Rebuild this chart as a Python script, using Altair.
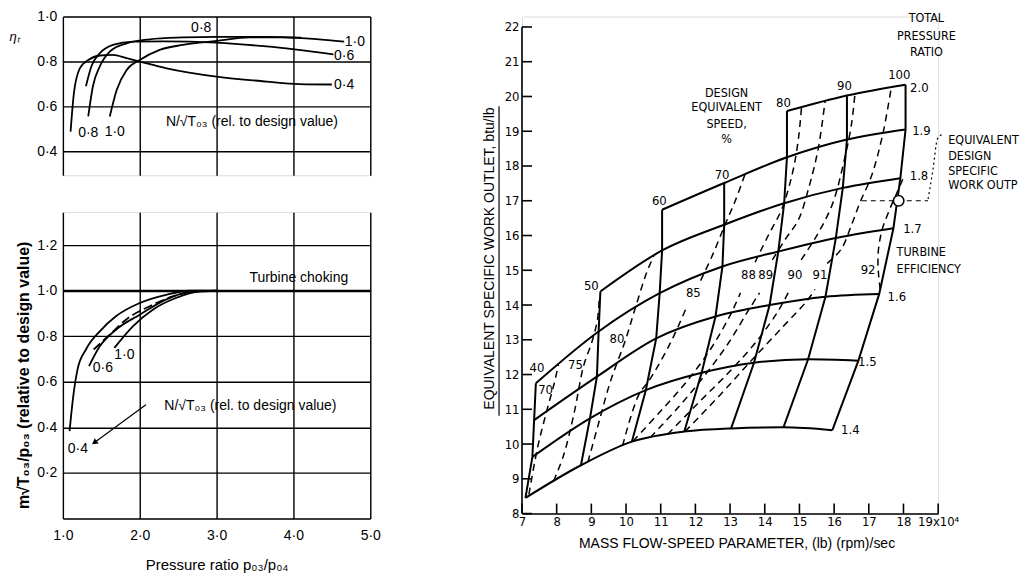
import altair as alt
import pandas as pd

FL = "Liberation Sans, Arial, sans-serif"
FR = "Liberation Sans Narrow, DejaVu Sans Condensed, Liberation Sans, sans-serif"
DOT = "replace(format(datum.value, '.1f'), '.', '·')"

# ---------------- left top: efficiency vs pressure ratio ----------------
eta_names = ["0.4", "0.6", "0.8", "1.0"]
eta_pr_04 = [1.10, 1.143, 1.22, 1.33, 1.48, 1.65, 1.83, 2.0, 2.35, 3.0, 3.65, 4.08, 4.5]
eta_v_04 = [0.489, 0.659, 0.77, 0.807, 0.827, 0.83, 0.815, 0.80, 0.77, 0.733, 0.711, 0.70, 0.698]
eta_pr_06 = [1.30, 1.37, 1.48, 1.65, 1.91, 2.3, 3.0, 3.65, 4.52]
eta_v_06 = [0.69, 0.778, 0.837, 0.874, 0.889, 0.89, 0.884, 0.867, 0.832]
eta_pr_08 = [1.33, 1.39, 1.48, 1.61, 1.83, 2.13, 2.56, 3.0, 3.65, 4.1]
eta_v_08 = [0.556, 0.689, 0.778, 0.844, 0.881, 0.899, 0.907, 0.91, 0.91, 0.906]
eta_pr_10 = [1.61, 1.70, 1.83, 2.0, 2.26, 2.56, 3.0, 3.43, 3.86, 4.3, 4.66]
eta_v_10 = [0.556, 0.674, 0.763, 0.807, 0.852, 0.874, 0.892, 0.907, 0.907, 0.90, 0.889]

eta_lab_text = ["0·8", "1·0", "0·6", "0·4", "0·8", "1·0", "N/√T₀₃ (rel. to design value)"]
eta_lab_x = [2.80, 4.80, 4.66, 4.66, 1.33, 1.675, 3.46]
eta_lab_y = [0.948, 0.889, 0.824, 0.695, 0.481, 0.489, 0.533]

# ---------------- left bottom: mass flow vs pressure ratio ----------------
mf_pr_04 = [1.087, 1.13, 1.19, 1.30, 1.48, 1.69, 2.0, 2.34, 2.65, 3.0]
mf_v_04 = [0.384, 0.523, 0.654, 0.742, 0.822, 0.888, 0.946, 0.982, 1.0, 1.0]
mf_pr_06 = [1.34, 1.48, 1.69, 2.0, 2.34, 2.69, 3.0]
mf_v_06 = [0.669, 0.756, 0.829, 0.895, 0.961, 0.997, 1.0]
mf_pr_08 = [1.40, 1.61, 1.82, 2.13, 2.43, 2.74, 3.0]
mf_v_08 = [0.742, 0.807, 0.873, 0.932, 0.975, 0.997, 1.0]
mf_pr_10 = [1.67, 1.91, 2.17, 2.47, 2.78, 3.0]
mf_v_10 = [0.749, 0.844, 0.917, 0.968, 0.997, 1.0]
choke_value = [1.0]

mf_lab_text = ["Turbine choking", "0·6", "1·0", "0·4", "N/√T₀₃ (rel. to design value)"]
mf_lab_x = [4.07, 1.52, 1.80, 1.195, 3.44]
mf_lab_y = [1.056, 0.661, 0.72, 0.304, 0.494]
arrow_x = [2.08, 1.42]
arrow_y = [0.50, 0.336]

# ---------------- right: turbine map ----------------
pr_names = ["1.4", "1.5", "1.6", "1.7", "1.8", "1.9", "2.0"]
pr_speeds = {
    "1.4": [40, 50, 60, 70, 80, 90, 100],
    "1.5": [40, 50, 60, 70, 80, 90, 100],
    "1.6": [40, 50, 60, 70, 80, 90, 100],
    "1.7": [40, 50, 60, 70, 80, 90, 100],
    "1.8": [50, 60, 70, 80, 90, 100],
    "1.9": [60, 70, 80, 90, 100],
    "2.0": [80, 90, 100],
}
pr14_x = [7.1, 8.7, 10.17, 11.68, 13.03, 14.54, 15.95]
pr14_y = [8.45, 9.39, 10.07, 10.36, 10.45, 10.48, 10.40]
pr15_x = [7.3, 8.96, 10.57, 12.18, 13.69, 15.25, 16.7]
pr15_y = [9.63, 10.74, 11.55, 12.05, 12.34, 12.44, 12.40]
pr16_x = [7.35, 9.16, 10.87, 12.58, 14.14, 15.75, 17.3]
pr16_y = [10.69, 11.94, 13.04, 13.67, 14.0, 14.24, 14.32]
pr17_x = [7.4, 9.21, 10.97, 12.78, 14.39, 16.05, 17.71]
pr17_y = [11.75, 13.24, 14.34, 15.11, 15.54, 15.93, 16.21]
pr18_x = [9.26, 11.04, 12.83, 14.56, 16.25, 17.91]
pr18_y = [14.39, 15.57, 16.31, 16.93, 17.37, 17.65]
pr19_x = [11.04, 12.83, 14.64, 16.37, 18.06]
pr19_y = [16.74, 17.51, 18.25, 18.76, 19.05]
pr20_x = [14.64, 16.37, 18.06]
pr20_y = [19.58, 20.03, 20.34]
pr_xs = [pr14_x, pr15_x, pr16_x, pr17_x, pr18_x, pr19_x, pr20_x]
pr_ys = [pr14_y, pr15_y, pr16_y, pr17_y, pr18_y, pr19_y, pr20_y]

pr_lab_text = ["1.4", "1.5", "1.6", "1.7", "1.8", "1.9", "2.0"]
pr_lab_x = [16.20, 16.69, 17.54, 17.99, 18.18, 18.25, 18.19]
pr_lab_y = [10.40, 12.36, 14.23, 16.19, 17.72, 19.02, 20.24]

sp_lab_text = ["40", "50", "60", "70", "80", "90", "100"]
sp_lab_x = [7.43, 9.0, 10.96, 12.77, 14.54, 16.30, 17.88]
sp_lab_y = [12.18, 14.54, 17.0, 17.74, 19.80, 20.30, 20.62]

# efficiency contours (name, segment) -> x, y
eff_contours = [
    ("70", 0, [7.2, 7.45, 7.7, 7.93, 8.05], [8.55, 9.9, 10.9, 11.75, 12.28]),
    ("75", 0, [7.91, 8.2, 8.49, 8.78, 9.02, 9.18, 9.23], [8.93, 9.68, 10.83, 12.26, 12.95, 13.6, 14.25]),
    ("80", 0, [8.9, 9.21, 9.55, 9.98, 10.26, 10.6, 10.8], [9.48, 10.6, 11.8, 12.98, 13.89, 14.95, 15.41]),
    ("85", 0, [9.9, 10.36, 10.7, 11.3, 11.75], [9.95, 11.4, 11.88, 12.95, 13.95]),
    ("85", 1, [12.15, 12.5, 12.85, 13.15, 13.43], [14.7, 15.45, 16.3, 17.0, 17.76]),
    ("88", 0, [10.2, 11.0, 11.75, 12.45, 13.0, 13.3], [10.08, 10.95, 11.8, 12.75, 13.7, 14.35]),
    ("88", 1, [13.72, 14.1, 14.49, 14.8, 14.97, 15.06], [15.23, 16.0, 16.76, 17.8, 18.78, 19.69]),
    ("89", 0, [10.7, 11.5, 12.25, 12.95, 13.5, 13.85], [10.19, 11.05, 11.95, 12.9, 13.8, 14.35]),
    ("89", 1, [14.22, 14.6, 14.97, 15.26, 15.54, 15.74], [15.3, 15.9, 16.45, 17.34, 18.49, 19.87]),
    ("90", 0, [11.2, 12.1, 13.0, 13.8, 14.4, 14.7], [10.28, 11.2, 12.1, 13.0, 13.85, 14.4]),
    ("90", 1, [15.05, 15.5, 15.95, 16.3, 16.5, 16.6], [15.3, 16.0, 16.9, 18.2, 19.2, 20.07]),
    ("91", 0, [11.7, 12.7, 13.62, 14.5, 15.2, 15.45], [10.36, 11.4, 12.41, 13.35, 14.1, 14.45]),
    ("91", 1, [15.8, 16.2, 16.5, 16.75, 17.08, 17.4, 17.65], [15.2, 15.6, 16.3, 16.96, 17.72, 18.9, 20.27]),
    ("92", 0, [17.98, 17.82, 17.58, 17.38, 17.27, 17.28, 17.33], [17.62, 17.25, 16.7, 16.15, 15.5, 14.9, 14.45]),
]
eff_lab_text = ["70", "75", "80", "85", "88", "89", "90", "91", "92"]
eff_lab_x = [7.68, 8.54, 9.74, 11.94, 13.53, 14.03, 14.87, 15.59, 16.98]
eff_lab_y = [11.55, 12.26, 13.03, 14.35, 14.85, 14.85, 14.85, 14.85, 15.0]

design_x = [17.86]
design_y = [17.0]
ref_dash_x = [16.8, 18.71]
ref_dash_y = [17.0, 17.0]
leader_x = [18.71, 18.85, 18.98, 19.1]
leader_y = [17.05, 17.9, 18.78, 18.9]

note_text = ["DESIGN", "EQUIVALENT", "SPEED,", "%",
             "TOTAL", "PRESSURE", "RATIO",
             "TURBINE", "EFFICIENCY"]
note_x = [12.9, 12.9, 12.9, 12.9, 18.66, 18.66, 18.66, 17.8, 17.8]
note_y = [20.11, 19.69, 19.21, 18.78, 22.25, 21.75, 21.27, 15.52, 15.04]
note_align = ["center"] * 7 + ["left"] * 2
side_text = ["EQUIVALENT", "DESIGN", "SPECIFIC", "WORK OUTP"]
side_x = [19.29, 19.29, 19.29, 19.29]
side_y = [18.76, 18.30, 17.87, 17.44]

x_ticks = [7, 8, 9, 10, 11, 12, 13, 14, 15, 16, 17, 18, 19]
y_ticks = [8, 9, 10, 11, 12, 13, 14, 15, 16, 17, 18, 19, 20, 21, 22]

# ================= build tables =================
def curves(names, xs, ys, kx, ky):
    rows = []
    for n, a, b in zip(names, xs, ys):
        for i, (p, q) in enumerate(zip(a, b)):
            rows.append({"name": n, kx: p, ky: q, "ord": i})
    return pd.DataFrame(rows)

LW, LH_TOP, LH_BOT = 308, 159, 307

# ---- top-left
df_eta = curves(eta_names, [eta_pr_04, eta_pr_06, eta_pr_08, eta_pr_10],
                [eta_v_04, eta_v_06, eta_v_08, eta_v_10], "pr", "v")
df_eta_lab = pd.DataFrame({"t": eta_lab_text, "pr": eta_lab_x, "v": eta_lab_y})

sx_l = alt.Scale(domain=[1, 5], nice=False, zero=False)
sy_top = alt.Scale(domain=[0.295, 1.0], nice=False, zero=False)
ax_top_x = alt.Axis(values=[1, 2, 3, 4, 5], grid=True, gridColor="black", gridWidth=1.4,
                    gridOpacity=1, labels=False, ticks=False, domain=False, title=None)
ax_top_y = alt.Axis(values=[0.4, 0.6, 0.8, 1.0], grid=True, gridColor="black", gridWidth=1.4,
                    gridOpacity=1, ticks=False, domain=False, labelExpr=DOT, labelFont=FL,
                    labelFontSize=14, labelPadding=6, labelColor="black", labelFlush=False,
                    title="ηₜ", titleAngle=0, titleX=-49, titleY=20, titleAlign="center",
                    titleBaseline="middle", titleFont=FL, titleFontSize=13,
                    titleFontWeight="normal", titleFontStyle="italic", titleColor="black")
X_top = alt.X("pr:Q", scale=sx_l, axis=ax_top_x)
Y_top = alt.Y("v:Q", scale=sy_top, axis=ax_top_y)

top = alt.layer(
    alt.Chart(df_eta).mark_line(color="black", strokeWidth=1.8, interpolate="monotone").encode(
        x=X_top, y=Y_top, detail="name:N", order="ord:Q"),
    alt.Chart(df_eta_lab).mark_text(font=FL, fontSize=14, color="black").encode(
        x=X_top, y=Y_top, text="t:N"),
).properties(width=LW, height=LH_TOP)

# ---- bottom-left
df_mf = curves(["0.4", "0.6", "1.0"], [mf_pr_04, mf_pr_06, mf_pr_10],
               [mf_v_04, mf_v_06, mf_v_10], "pr", "v")
df_mf_d = curves(["0.8"], [mf_pr_08], [mf_v_08], "pr", "v")
df_mf_lab = pd.DataFrame({"t": mf_lab_text, "pr": mf_lab_x, "v": mf_lab_y})
df_choke = pd.DataFrame({"v": choke_value, "pr": [1.0], "pr2": [5.0]})
df_arrow = pd.DataFrame({"pr": [arrow_x[0]], "v": [arrow_y[0]], "pr2": [arrow_x[1]], "v2": [arrow_y[1]]})
df_head = pd.DataFrame({"pr": [arrow_x[1]], "v": [arrow_y[1]]})

sy_bot = alt.Scale(domain=[0, 1.345], nice=False, zero=False)
ax_bot_x = alt.Axis(values=[1, 2, 3, 4, 5], grid=True, gridColor="black", gridWidth=1.4,
                    gridOpacity=1, ticks=False, domain=False, labelExpr=DOT, labelFont=FL,
                    labelFontSize=14, labelPadding=10, labelColor="black", labelFlush=False,
                    title="Pressure ratio  p₀₃/p₀₄", titleFont=FL, titleFontSize=15,
                    titleFontWeight="normal", titleColor="black", titleY=46,
                    titleBaseline="middle", titleX=154)
ax_bot_y = alt.Axis(values=[0, 0.2, 0.4, 0.6, 0.8, 1.0, 1.2], grid=True, gridColor="black",
                    gridWidth=1.4, gridOpacity=1, ticks=False, domain=False,
                    labelExpr="datum.value == 0 ? '' : " + DOT, labelFont=FL, labelFontSize=14,
                    labelPadding=6, labelColor="black", labelFlush=False,
                    title="m√T₀₃/p₀₃  (relative to design value)", titleFont=FL,
                    titleFontSize=16, titleFontWeight="bold", titleColor="black",
                    titleX=-39, titleY=163, titleAlign="center", titleBaseline="middle",
                    titleAngle=270)
X_bot = alt.X("pr:Q", scale=sx_l, axis=ax_bot_x)
Y_bot = alt.Y("v:Q", scale=sy_bot, axis=ax_bot_y)

bottom = alt.layer(
    alt.Chart(df_choke).mark_rule(color="black", strokeWidth=2.2).encode(
        x=X_bot, x2="pr2:Q", y=Y_bot),
    alt.Chart(df_mf).mark_line(color="black", strokeWidth=1.8, interpolate="monotone").encode(
        x=X_bot, y=Y_bot, detail="name:N", order="ord:Q"),
    alt.Chart(df_mf_d).mark_line(color="black", strokeWidth=1.8, interpolate="monotone",
                                 strokeDash=[9, 4]).encode(
        x=X_bot, y=Y_bot, detail="name:N", order="ord:Q"),
    alt.Chart(df_arrow).mark_rule(color="black", strokeWidth=1.2).encode(
        x=X_bot, y=Y_bot, x2="pr2:Q", y2="v2:Q"),
    alt.Chart(df_head).mark_point(shape="triangle", filled=True, color="black", size=45,
                                  angle=233, opacity=1).encode(x=X_bot, y=Y_bot),
    alt.Chart(df_mf_lab).mark_text(font=FL, fontSize=14, color="black").encode(
        x=X_bot, y=Y_bot, text="t:N"),
).properties(width=LW, height=LH_BOT)

left = alt.vconcat(top, bottom, spacing=37, bounds="flush")

# ---- right map
RW, RH = 417, 498
rows = []
for name, xs, ys in zip(pr_names, pr_xs, pr_ys):
    for i, (a, b, s) in enumerate(zip(xs, ys, pr_speeds[name])):
        rows.append({"pr": name, "prv": float(name), "speed": s, "x": a, "y": b, "ord": i})
df_grid = pd.DataFrame(rows)
df_cont = pd.DataFrame([{"key": f"{n}-{s}", "x": a, "y": b, "ord": i}
                        for n, s, xs, ys in eff_contours for i, (a, b) in enumerate(zip(xs, ys))])
df_prlab = pd.DataFrame({"t": pr_lab_text, "x": pr_lab_x, "y": pr_lab_y})
df_splab = pd.DataFrame({"t": sp_lab_text, "x": sp_lab_x, "y": sp_lab_y})
df_efflab = pd.DataFrame({"t": eff_lab_text, "x": eff_lab_x, "y": eff_lab_y})
df_design = pd.DataFrame({"x": design_x, "y": design_y})
df_ref = pd.DataFrame({"x": ref_dash_x, "y": ref_dash_y, "ord": [0, 1]})
df_lead = pd.DataFrame({"x": leader_x, "y": leader_y, "ord": list(range(len(leader_x)))})
df_note = pd.DataFrame({"t": note_text, "x": note_x, "y": note_y, "al": note_align})
df_side = pd.DataFrame({"t": side_text, "x": side_x, "y": side_y})
df_xt = pd.DataFrame({"x": x_ticks})
df_yt = pd.DataFrame({"y": y_ticks})
df_yaxis = pd.DataFrame({"x": [7], "y": [8], "y2": [22]})

sx_r = alt.Scale(domain=[7, 19], nice=False, zero=False)
sy_r = alt.Scale(domain=[8, 22.3], nice=False, zero=False)
ax_r_x = alt.Axis(values=x_ticks, grid=False, ticks=False, domain=True, domainColor="black",
                  domainWidth=1.6, labelFont=FR, labelFontSize=13, labelColor="black",
                  labelPadding=2, labelFlush=False,
                  labelExpr="datum.value == 19 ? '19x10⁴' : datum.label",
                  title="MASS FLOW-SPEED PARAMETER, (lb) (rpm)/sec", titleFont=FL,
                  titleFontSize=14, titleFontWeight="normal", titleColor="black",
                  titleX=215, titleY=30, titleBaseline="middle")
ax_r_y = alt.Axis(values=y_ticks, grid=False, ticks=False, domain=False, labelFont=FR,
                  labelFontSize=13, labelColor="black", labelPadding=3, labelFlush=False,
                  title="EQUIVALENT SPECIFIC WORK OUTLET, btu/lb", titleFont=FL,
                  titleFontSize=14, titleFontWeight="normal", titleColor="black",
                  titleX=-33, titleY=242, titleAlign="center", titleBaseline="middle",
                  titleAngle=270)
XR = lambda f="x": alt.X(f"{f}:Q", scale=sx_r, axis=ax_r_x)
YR = lambda f="y": alt.Y(f"{f}:Q", scale=sy_r, axis=ax_r_y)

right = alt.layer(
    alt.Chart(df_cont).mark_line(color="black", strokeWidth=1.5, strokeDash=[7, 5],
                                 interpolate="catmull-rom").encode(
        x=XR(), y=YR(), detail="key:N", order="ord:Q"),
    alt.Chart(df_grid).mark_line(color="black", strokeWidth=2, interpolate="monotone").encode(
        x=XR(), y=YR(), detail="pr:N", order="ord:Q"),
    alt.Chart(df_grid).mark_line(color="black", strokeWidth=2).encode(
        x=XR(), y=YR(), detail="speed:N", order="prv:Q"),
    alt.Chart(df_ref).mark_line(color="black", strokeWidth=1.2, strokeDash=[5, 4]).encode(
        x=XR(), y=YR(), order="ord:Q"),
    alt.Chart(df_lead).mark_line(color="black", strokeWidth=1.2, strokeDash=[2, 3],
                                 interpolate="monotone").encode(
        x=XR(), y=YR(), order="ord:Q"),
    alt.Chart(df_design).mark_point(shape="circle", filled=True, fill="white", stroke="black",
                                    strokeWidth=1.6, size=110, opacity=1).encode(x=XR(), y=YR()),
    alt.Chart(df_yaxis).mark_rule(color="black", strokeWidth=1.6).encode(
        x=XR(), y=YR(), y2="y2:Q"),
    alt.Chart(df_xt).mark_rule(color="black", strokeWidth=1.6).encode(
        x=XR(), y=alt.value(RH), y2=alt.value(RH - 10)),
    alt.Chart(df_yt).mark_rule(color="black", strokeWidth=1.6).encode(
        y=YR(), x=alt.value(0), x2=alt.value(10)),
    alt.Chart(df_yaxis).mark_rule(color="black", strokeWidth=1.2).encode(
        x=alt.value(-23), y=alt.value(90), y2=alt.value(400)),
    alt.Chart(df_prlab).mark_text(font=FR, fontSize=13, color="black", align="left").encode(
        x=XR(), y=YR(), text="t:N"),
    alt.Chart(df_splab).mark_text(font=FR, fontSize=13, color="black").encode(
        x=XR(), y=YR(), text="t:N"),
    alt.Chart(df_efflab).mark_text(font=FR, fontSize=13, color="black").encode(
        x=XR(), y=YR(), text="t:N"),
    alt.Chart(df_note[df_note.al == "center"]).mark_text(font=FR, fontSize=12.5, color="black",
                                                         align="center").encode(
        x=XR(), y=YR(), text="t:N"),
    alt.Chart(df_note[df_note.al == "left"]).mark_text(font=FR, fontSize=12.5, color="black",
                                                       align="left").encode(
        x=XR(), y=YR(), text="t:N"),
    alt.Chart(df_side).mark_text(font=FR, fontSize=12.5, color="black", align="left").encode(
        x=XR(), y=YR(), text="t:N"),
).properties(width=RW, height=RH)

# nested flush concat counts as zero width, so the gap includes the left panel width
chart = alt.hconcat(left, right, spacing=LW + 152, bounds="flush").properties(
    padding={"left": 0, "top": 0, "right": 0, "bottom": 0}
).configure_view(stroke=None).configure(background="white")

chart.save("out.html", embed_options={"renderer": "svg", "actions": False})
